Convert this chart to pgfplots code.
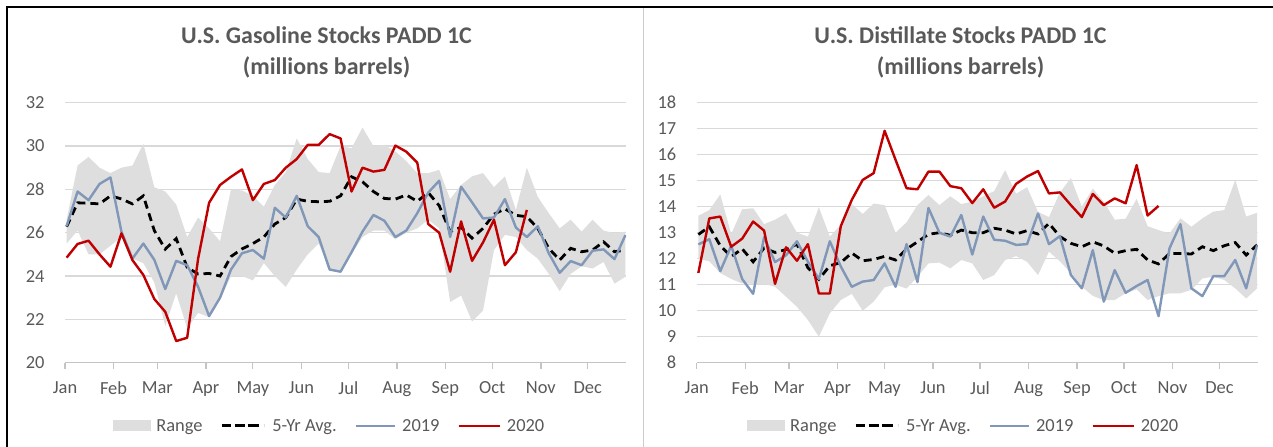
\documentclass[border=0pt]{standalone}
\usepackage{pgfplots}
\pgfplotsset{compat=1.18}
\usepackage{pgfplotstable}
\usepackage{fontspec}
\setmainfont{Carlito}
\definecolor{rangegray}{HTML}{DEDEDE}
\definecolor{gridgray}{HTML}{D9D9D9}
\definecolor{axgray}{HTML}{C4C4C4}
\definecolor{txtgray}{HTML}{595959}
\definecolor{blueA}{HTML}{8097B8}
\definecolor{redA}{HTML}{C00000}

% weekly series: x = week index, avg = 5-yr average, a = 2019, b = 2020
\pgfplotstableread{
x avg a b
0 26.28 26.3 24.85
1 27.38 27.9 25.48
2 27.36 27.5 25.63
3 27.33 28.25 25.0
4 27.7 28.55 24.43
5 27.56 26.05 25.97
6 27.33 24.8 24.74
7 27.7 25.5 24.05
8 26.1 24.75 22.94
9 25.24 23.4 22.35
10 25.73 24.7 21.0
11 24.4 24.5 21.15
12 24.09 23.5 24.8
13 24.12 22.15 27.38
14 24.0 23.0 28.2
15 24.9 24.3 28.58
16 25.25 25.05 28.92
17 25.5 25.2 27.5
18 25.8 24.8 28.25
19 26.4 27.15 28.43
20 26.7 26.7 29.0
21 27.55 27.7 29.4
22 27.45 26.3 30.05
23 27.43 25.8 30.05
24 27.45 24.3 30.55
25 27.7 24.2 30.35
26 28.58 25.1 27.9
27 28.35 26.05 29.0
28 27.9 26.82 28.82
29 27.58 26.55 28.9
30 27.55 25.8 30.02
31 27.74 26.1 29.74
32 27.45 26.9 29.23
33 27.85 27.85 26.4
34 27.25 28.4 26.0
35 26.05 25.8 24.2
36 26.25 28.12 26.52
37 25.75 27.4 24.7
38 26.2 26.66 25.55
39 26.85 26.7 26.6
40 27.1 27.55 24.5
41 26.8 26.24 25.1
42 26.74 25.8 27.05
43 26.2 26.3 nan
44 25.28 25.05 nan
45 24.74 24.15 nan
46 25.28 24.69 nan
47 25.12 24.5 nan
48 25.2 25.17 nan
49 25.58 25.23 nan
50 25.12 24.78 nan
51 25.2 25.89 nan
}\gasdata

% range band: upper edge forward, lower edge backward
\pgfplotstableread{
x y
0 26.6
1 29.1
2 29.5
3 29.0
4 28.75
5 29.0
6 29.1
7 30.1
8 28.1
9 27.9
10 27.3
11 25.8
12 26.7
13 26.2
14 25.6
15 28.0
16 27.95
17 27.7
18 27.2
19 28.2
20 28.8
21 30.35
22 29.4
23 28.8
24 28.75
25 30.0
26 29.9
27 30.85
28 30.0
29 30.05
30 29.75
31 29.3
32 28.75
33 28.75
34 28.9
35 27.55
36 28.2
37 28.6
38 28.75
39 28.1
40 28.6
41 27.05
42 29.0
43 27.65
44 26.9
45 26.2
46 26.6
47 26.05
48 26.6
49 26.1
50 25.97
51 26.05
51 23.97
50 23.65
49 24.65
48 24.35
47 24.45
46 24.1
45 23.3
44 24.1
43 24.8
42 25.2
41 25.8
40 25.9
39 25.2
38 22.4
37 21.9
36 23.1
35 22.8
34 26.2
33 26.6
32 26.2
31 26.0
30 25.7
29 26.1
28 26.1
27 25.8
26 25.0
25 24.2
24 24.3
23 25.5
22 25.0
21 24.3
20 23.5
19 24.0
18 24.6
17 23.8
16 24.0
15 24.0
14 22.9
13 22.1
12 22.3
11 21.6
10 23.2
9 21.7
8 23.7
7 24.6
6 24.8
5 25.8
4 25.4
3 25.0
2 25.0
1 26.1
0 25.5
}\gasband

\pgfplotstableread{
x avg a b
0 12.93 12.55 11.45
1 13.23 12.75 13.55
2 12.5 11.52 13.62
3 12.08 12.5 12.46
4 12.38 11.22 12.77
5 11.88 10.65 13.43
6 12.41 12.83 13.08
7 12.24 11.87 11.03
8 12.35 12.13 12.44
9 12.56 12.67 11.92
10 11.65 11.88 12.56
11 11.21 11.22 10.66
12 11.73 12.67 10.66
13 11.85 11.7 13.25
14 12.22 10.92 14.26
15 11.92 11.12 15.03
16 11.97 11.18 15.29
17 12.09 11.82 16.92
18 11.95 10.92 15.8
19 12.37 12.56 14.71
20 12.65 11.1 14.67
21 12.94 13.95 15.35
22 13.0 13.0 15.35
23 12.9 12.85 14.79
24 13.1 13.68 14.71
25 13.0 12.16 14.14
26 13.0 13.62 14.67
27 13.17 12.73 13.96
28 13.1 12.69 14.2
29 12.95 12.53 14.88
30 13.08 12.56 15.16
31 12.95 13.74 15.37
32 13.36 12.56 14.51
33 12.85 12.87 14.55
34 12.59 11.37 14.06
35 12.46 10.86 13.6
36 12.65 12.33 14.49
37 12.49 10.35 14.06
38 12.21 11.56 14.32
39 12.31 10.69 14.13
40 12.36 10.95 15.6
41 11.95 11.18 13.66
42 11.8 9.79 14.03
43 12.2 12.4 nan
44 12.2 13.33 nan
45 12.18 10.86 nan
46 12.46 10.56 nan
47 12.31 11.33 nan
48 12.5 11.33 nan
49 12.62 11.95 nan
50 12.14 10.86 nan
51 12.53 12.53 nan
}\distdata

\pgfplotstableread{
x y
0 13.65
1 13.87
2 14.47
3 12.95
4 13.9
5 13.94
6 13.33
7 13.5
8 13.74
9 13.0
10 12.85
11 13.98
12 12.85
13 13.3
14 14.1
15 13.72
16 14.12
17 14.06
18 13.0
19 13.4
20 14.06
21 14.45
22 14.06
23 14.4
24 14.1
25 14.2
26 14.4
27 14.6
28 15.41
29 14.5
30 14.75
31 13.8
32 13.6
33 14.55
34 15.1
35 14.0
36 14.7
37 14.19
38 13.5
39 13.54
40 14.3
41 13.25
42 13.1
43 12.97
44 13.55
45 13.23
46 13.55
47 13.81
48 13.87
49 15.03
50 13.62
51 13.77
51 10.86
50 10.47
49 10.86
48 11.18
47 11.31
46 11.24
45 10.8
44 10.67
43 10.67
42 10.56
41 10.41
40 10.82
39 10.67
38 10.41
37 10.4
36 10.57
35 10.92
34 11.44
33 11.9
32 12.27
31 11.37
30 11.88
29 12.1
28 11.95
27 11.37
26 11.18
25 11.82
24 11.95
23 11.63
22 11.85
21 11.82
20 11.3
19 10.85
18 11.0
17 10.9
16 10.35
15 10.0
14 10.65
13 10.41
12 9.9
11 9.0
10 9.64
9 10.15
8 10.54
7 10.92
6 11.03
5 11.03
4 11.05
3 11.22
2 11.45
1 11.9
0 12.0
}\distband

\pgfplotsset{
  mychart/.style={
    scale only axis, width=561bp, height=260bp,
    xmin=-0.15, xmax=51.05,
    xtick={-0.15,4.28,8.28,12.71,16.99,21.42,25.71,30.14,34.56,38.85,43.28,47.56},
    xticklabels={Jan,Feb,Mar,Apr,May,Jun,Jul,Aug,Sep,Oct,Nov,Dec},
    axis x line*=bottom, axis y line*=left, separate axis lines,
    x axis line style={draw=axgray, line width=1.3bp, -},
    y axis line style={draw=none},
    tick align=inside, major tick length=6bp,
    ytick style={draw=gridgray, line width=1.3bp},
    xtick style={draw=axgray, line width=1.3bp, yshift=-6bp},
    /pgf/number format/assume math mode=true,
    tick label style={font=\fontsize{18.5}{20}\selectfont, text=txtgray},
    yticklabel style={xshift=-17bp},
    xticklabel style={yshift=-15bp},
    legend columns=4,
    legend style={draw=none, fill=none, anchor=center,
      font=\fontsize{18.5}{20}\selectfont, text=txtgray,
      /tikz/column sep=16bp},
  },
  gridl/.style={gridgray, line width=1.3bp, forget plot},
  rng/.style={fill=rangegray, draw=none,
    legend image code/.code={\fill[rangegray, overlay] (0bp,-5.5bp) rectangle (38bp,5.5bp); \path (0bp,0bp) -- (25bp,0bp);}},
  avgl/.style={black, line width=2.8bp, dash pattern=on 8bp off 5bp,
    legend image code/.code={\draw[black, overlay, line width=2.8bp, dash pattern=on 9bp off 5bp] (0bp,0bp) -- (42bp,0bp); \path (0bp,0bp) -- (31bp,0bp);}},
  l19/.style={blueA, line width=2.4bp, line join=round,
    legend image code/.code={\draw[blueA, overlay, line width=2.4bp] (0bp,0bp) -- (39bp,0bp); \path (0bp,0bp) -- (27bp,0bp);}},
  l20/.style={redA, line width=2.4bp, line join=round,
    legend image code/.code={\draw[redA, overlay, line width=2.4bp] (0bp,0bp) -- (41bp,0bp); \path (0bp,0bp) -- (29bp,0bp);}},
}

\begin{document}
\begin{tikzpicture}
\draw[black, line width=2bp] (7bp,0bp) -- (7bp,440bp) -- (1273bp,440bp);
\draw[black!20, line width=1.2bp] (643.5bp,0bp) -- (643.5bp,439bp);

\node[font=\fontsize{24}{28}\bfseries, text=txtgray] at (326.5bp,412bp) {U.S. Gasoline Stocks PADD 1C};
\node[font=\fontsize{24}{28}\bfseries, text=txtgray] at (326.5bp,380bp) {(millions barrels)};
\node[font=\fontsize{24}{28}\bfseries, text=txtgray] at (960.5bp,412bp) {U.S. Distillate Stocks PADD 1C};
\node[font=\fontsize{24}{28}\bfseries, text=txtgray] at (960.5bp,380bp) {(millions barrels)};

\begin{axis}[mychart, at={(65bp,84.3bp)}, anchor=south west,
  ymin=20, ymax=32, ytick={20,22,...,32},
  legend style={at={(0.472,-0.243)}}]
\addplot[gridl] coordinates {(-0.15,22) (51.05,22)};
\addplot[gridl] coordinates {(-0.15,24) (51.05,24)};
\addplot[gridl] coordinates {(-0.15,26) (51.05,26)};
\addplot[gridl] coordinates {(-0.15,28) (51.05,28)};
\addplot[gridl] coordinates {(-0.15,30) (51.05,30)};
\addplot[gridl] coordinates {(-0.15,32) (51.05,32)};
\addplot[rng] table[x=x,y=y]{\gasband} -- cycle;
\addlegendentry{Range}
\addplot[avgl] table[x=x,y=avg]{\gasdata};
\addlegendentry{5-Yr Avg.}
\addplot[l19] table[x=x,y=a]{\gasdata};
\addlegendentry{2019}
\addplot[l20] table[x=x,y=b]{\gasdata};
\addlegendentry{2020}
\end{axis}

\begin{axis}[mychart, at={(696.7bp,84.3bp)}, anchor=south west,
  ymin=8, ymax=18, ytick={8,9,...,18},
  legend style={at={(0.476,-0.243)}}]
\addplot[gridl] coordinates {(-0.15,9) (51.05,9)};
\addplot[gridl] coordinates {(-0.15,10) (51.05,10)};
\addplot[gridl] coordinates {(-0.15,11) (51.05,11)};
\addplot[gridl] coordinates {(-0.15,12) (51.05,12)};
\addplot[gridl] coordinates {(-0.15,13) (51.05,13)};
\addplot[gridl] coordinates {(-0.15,14) (51.05,14)};
\addplot[gridl] coordinates {(-0.15,15) (51.05,15)};
\addplot[gridl] coordinates {(-0.15,16) (51.05,16)};
\addplot[gridl] coordinates {(-0.15,17) (51.05,17)};
\addplot[gridl] coordinates {(-0.15,18) (51.05,18)};
\addplot[rng] table[x=x,y=y]{\distband} -- cycle;
\addlegendentry{Range}
\addplot[avgl] table[x=x,y=avg]{\distdata};
\addlegendentry{5-Yr Avg.}
\addplot[l19] table[x=x,y=a]{\distdata};
\addlegendentry{2019}
\addplot[l20] table[x=x,y=b]{\distdata};
\addlegendentry{2020}
\end{axis}
\pgfresetboundingbox
\path[use as bounding box] (0bp,0bp) rectangle (1273bp,447bp);
\end{tikzpicture}
\end{document}
